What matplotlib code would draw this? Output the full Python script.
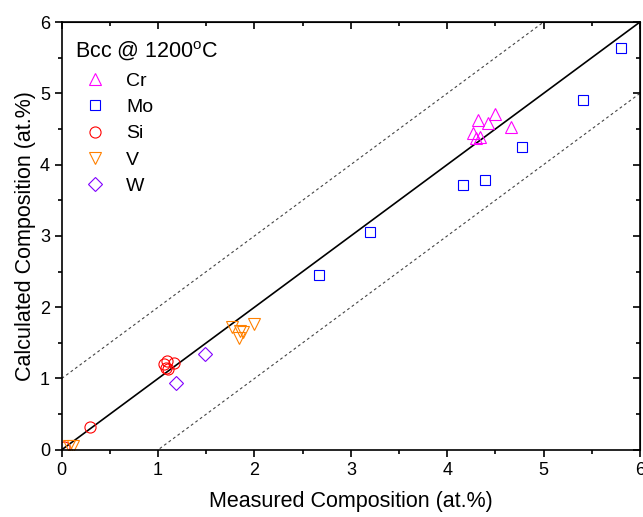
import numpy as np
import matplotlib.pyplot as plt
from matplotlib.ticker import MultipleLocator

plt.rcParams['font.family'] = ['Liberation Sans', 'DejaVu Sans']

# Measured vs calculated composition (at.%)
cr_x = [4.32, 4.50, 4.42, 4.27, 4.30, 4.34, 4.66]
cr_y = [4.62, 4.71, 4.59, 4.45, 4.38, 4.39, 4.53]

mo_x = [5.80, 5.41, 4.78, 4.39, 4.16, 3.20, 2.67]
mo_y = [5.63, 4.91, 4.25, 3.79, 3.71, 3.06, 2.45]

si_x = [1.06, 1.09, 1.17, 1.085, 1.10, 0.29, 0.02]
si_y = [1.21, 1.24, 1.22, 1.15, 1.13, 0.32, 0.04]

v_x = [1.77, 1.85, 1.88, 1.84, 1.99, 0.08, 0.12]
v_y = [1.72, 1.66, 1.65, 1.57, 1.76, 0.05, 0.05]

w_x = [1.49, 1.19]
w_y = [1.34, 0.94]

series = [
    ('Cr', cr_x, cr_y, '^', '#FF00FF', 9),
    ('Mo', mo_x, mo_y, 's', '#0000FF', 7),
    ('Si', si_x, si_y, 'o', '#FF0000', 8),
    ('V', v_x, v_y, 'v', '#FF8000', 9),
    ('W', w_x, w_y, 'D', '#8000FF', 7),
]

fig = plt.figure(figsize=(6.43, 5.17), dpi=100)
ax = fig.add_axes([0.096, 0.130, 0.8993, 0.8274])

line = np.array([0, 6])
ax.plot(line, line, color='black', lw=1.2)
ax.plot(line, line + 1, color='#444444', lw=0.8, ls=(0, (2.5, 2.5)))
ax.plot(line, line - 1, color='#444444', lw=0.8, ls=(0, (2.5, 2.5)))

for name, xs, ys, m, c, ms in series:
    ax.plot(xs, ys, ls='none', marker=m, markersize=ms, markerfacecolor='none',
            markeredgecolor=c, markeredgewidth=0.8, label=name)

ax.set_xlim(0, 6)
ax.set_ylim(0, 6)
ax.xaxis.set_major_locator(MultipleLocator(1))
ax.xaxis.set_minor_locator(MultipleLocator(0.5))
ax.yaxis.set_major_locator(MultipleLocator(1))
ax.yaxis.set_minor_locator(MultipleLocator(0.5))

for s in ax.spines.values():
    s.set_linewidth(1.2)

ax.tick_params(which='both', direction='out', width=1.2, labelsize=13,
               top=False, right=False)
ax.tick_params(which='major', length=5)
ax.tick_params(which='minor', length=3)

# inward ticks on top and right, no labels
ax2 = ax.secondary_xaxis('top')
ax2.xaxis.set_major_locator(MultipleLocator(1))
ax2.xaxis.set_minor_locator(MultipleLocator(0.5))
ax2.tick_params(which='both', direction='in', width=1.2, labeltop=False)
ax2.tick_params(which='major', length=5)
ax2.tick_params(which='minor', length=3)
ax3 = ax.secondary_yaxis('right')
ax3.yaxis.set_major_locator(MultipleLocator(1))
ax3.yaxis.set_minor_locator(MultipleLocator(0.5))
ax3.tick_params(which='both', direction='in', width=1.2, labelright=False)
ax3.tick_params(which='major', length=5)
ax3.tick_params(which='minor', length=3)

ax.set_xlabel('Measured Composition (at.%)', fontsize=15.5, labelpad=9)
ax.set_ylabel('Calculated Composition (at.%)', fontsize=15.5, labelpad=3)

leg = ax.legend(title='Bcc @ 1200$^\\mathregular{o}$C', loc='upper left',
                frameon=False, fontsize=14, title_fontsize=15.5,
                handletextpad=0.6, labelspacing=0.45, borderpad=0.2,
                bbox_to_anchor=(0.0, 0.99))
leg._legend_box.align = 'left'

fig.savefig('out.png', dpi=100)
